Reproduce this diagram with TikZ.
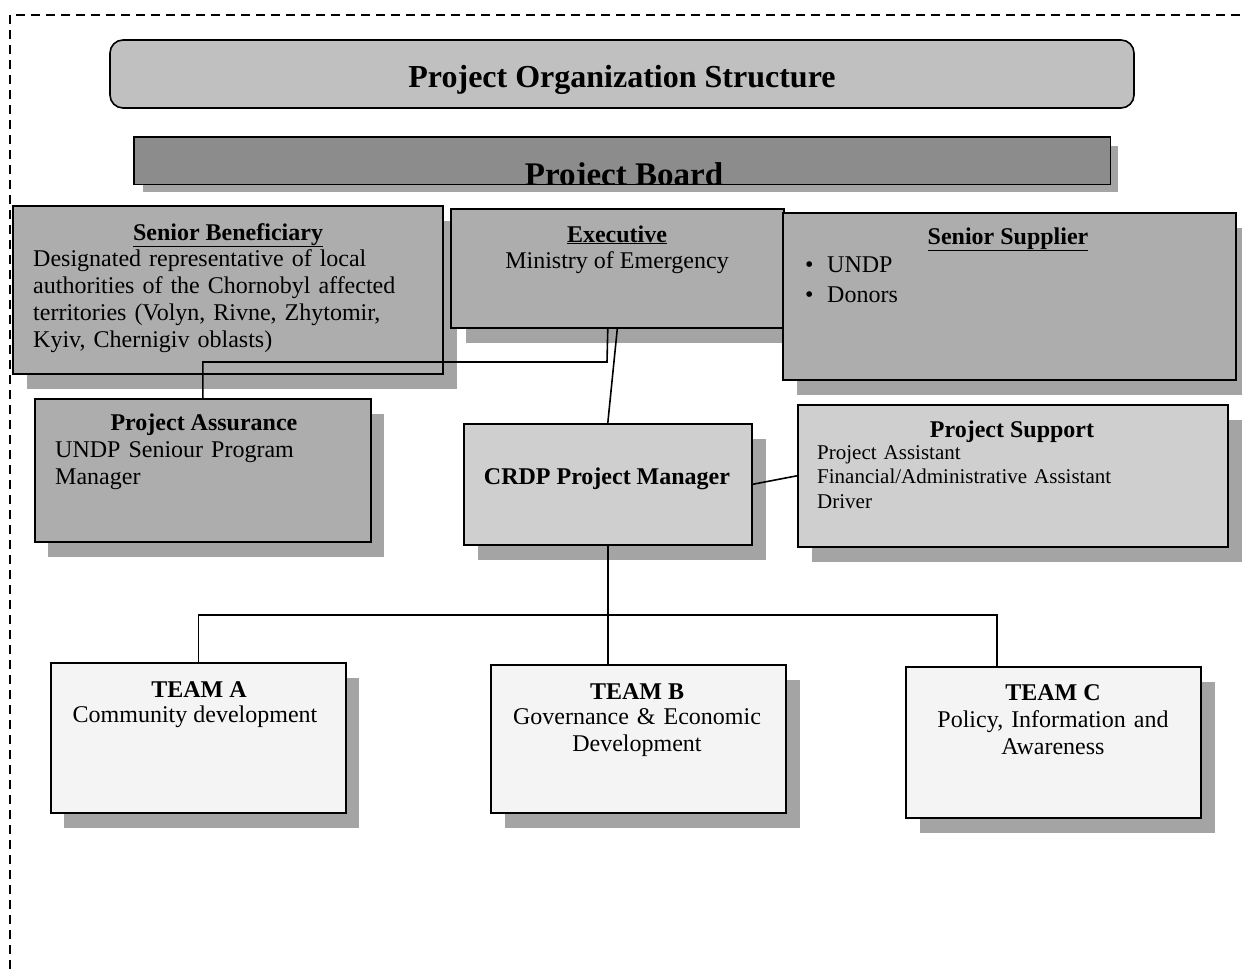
\documentclass[tikz,border=0pt]{standalone}
\usepackage{fontspec}
\setmainfont{Liberation Serif}
\usetikzlibrary{shadows}
\definecolor{titlegray}{HTML}{C0C0C0}
\definecolor{boardgray}{HTML}{8C8C8C}
\definecolor{midgray}{HTML}{ADADAD}
\definecolor{palegray}{HTML}{CFCFCF}
\definecolor{teamfill}{HTML}{F4F4F4}
\definecolor{shadowgray}{HTML}{A4A4A4}
\begin{document}
\begin{tikzpicture}[x=1pt,y=-1pt,
  box/.style={draw, line width=1.6pt, anchor=north west, inner sep=0pt},
  boxshadow/.style={drop shadow={shadow xshift=#1pt, shadow yshift=-15pt, fill=shadowgray, opacity=1}},
  link/.style={line width=1.6pt},
  body/.style={inner sep=0pt, font=\fontsize{24}{27}\selectfont},
  head/.style={inner sep=0pt, font=\bfseries\fontsize{24}{27}\selectfont, anchor=base},
  lines/.style={body, anchor=base west, align=left, text width=#1}
]
\useasboundingbox (0,0) rectangle (1242,969);

% outer dashed frame
\draw[line width=1.4pt, dash pattern=on 9pt off 6pt] (10,969) -- (10,15) -- (1242,15);

% title banner
\node[draw, line width=1.6pt, rounded corners=13pt, fill=titlegray,
      minimum width=1024pt, minimum height=68pt, inner sep=0pt] (titlebox) at (622,74) {};
\node[inner sep=0pt, font=\bfseries\fontsize{32}{36}\selectfont, anchor=base] (titletext) at (622,87) {Project Organization Structure};

% project board bar, its label cut off by the lower edge
\node[box, draw=none, fill=boardgray, minimum width=975pt, minimum height=46pt,
      drop shadow={shadow xshift=8pt, shadow yshift=-8pt, fill=shadowgray, opacity=1}] (board) at (134,137) {};
\begin{scope}
  \clip (board.north west) rectangle (board.south east);
  \node[inner sep=0pt, font=\bfseries\fontsize{33}{36}\selectfont, anchor=base] (boardtext) at (624,185) {Project Board};
\end{scope}
\draw[line width=1.6pt] (board.north west) rectangle (board.south east);

% board members
\node[box, fill=midgray, minimum width=430pt, minimum height=168pt, boxshadow=14] (sb) at (12,205) {};
\node[head] (sbhead) at (228,240) {\underline{Senior Beneficiary}};
\node[lines=405pt] (sbtext) at (33,266) {Designated representative of local\\authorities of the Chornobyl affected\\territories (Volyn, Rivne, Zhytomir,\\Kyiv, Chernigiv oblasts)};

\node[box, fill=midgray, minimum width=333pt, minimum height=119pt, boxshadow=15] (exec) at (450,208) {};
\node[head] (exhead) at (617,242) {\underline{Executive}};
\node[body, anchor=base] (extext) at (617,268) {Ministry of Emergency};

\node[box, fill=midgray, minimum width=453pt, minimum height=167pt, boxshadow=14] (ss) at (782,212) {};
\node[head] (sshead) at (1008,244) {\underline{Senior Supplier}};
\node[lines=220pt] (sstext) at (805,272) {\makebox[22pt][l]{\textbullet}UNDP\\[3pt]\makebox[22pt][l]{\textbullet}Donors};

% assurance, manager, support
\node[box, fill=midgray, minimum width=336pt, minimum height=143pt, boxshadow=13] (pa) at (34,398) {};
\node[head] (pahead) at (204,430) {Project Assurance};
\node[lines=300pt] (patext) at (55,457) {UNDP Seniour Program\\Manager};

\node[box, fill=palegray, minimum width=288pt, minimum height=121pt, boxshadow=14] (pm) at (463,423) {};
\node[head] (pmtext) at (607,484) {CRDP Project Manager};

\node[box, fill=palegray, minimum width=430pt, minimum height=142pt, boxshadow=14] (ps) at (797,404) {};
\node[head] (pshead) at (1012,437) {Project Support};
\node[inner sep=0pt, font=\fontsize{21}{24.5}\selectfont, anchor=base west, align=left, text width=400pt] (pstext) at (817,459) {Project Assistant\\Financial/Administrative Assistant\\Driver};

% teams
\node[box, fill=teamfill, minimum width=295pt, minimum height=150pt, boxshadow=13] (ta) at (50,662) {};
\node[head] (tahead) at (199,697) {TEAM A};
\node[body, anchor=base] (tatext) at (195,722) {Community development};

\node[box, fill=teamfill, minimum width=295pt, minimum height=148pt, boxshadow=14] (tb) at (490,664) {};
\node[head] (tbhead) at (637,699) {TEAM B};
\node[body, anchor=base, align=center, text width=290pt] (tbtext) at (637,724) {Governance \& Economic\\Development};

\node[box, fill=teamfill, minimum width=295pt, minimum height=151pt, boxshadow=14] (tc) at (905,666) {};
\node[head] (tchead) at (1053,700) {TEAM C};
\node[body, anchor=base, align=center, text width=290pt] (tctext) at (1053,727) {Policy, Information and\\Awareness};

% connectors
\coordinate (asjoin) at (607,362);
\coordinate (tcjoin) at (997,615);
\draw[link] (exec.south) -- (pm.north);
\draw[link] (exec.south -| pm.north) -- (asjoin) -| (pa.north);
\draw[link] (pm.east) -- (ps.west);
\draw[link] (pm.south) -- (pm.south |- tb.north);
\draw[link] (ta.north) |- (tcjoin) -- (tcjoin |- tc.north);
\end{tikzpicture}
\end{document}
